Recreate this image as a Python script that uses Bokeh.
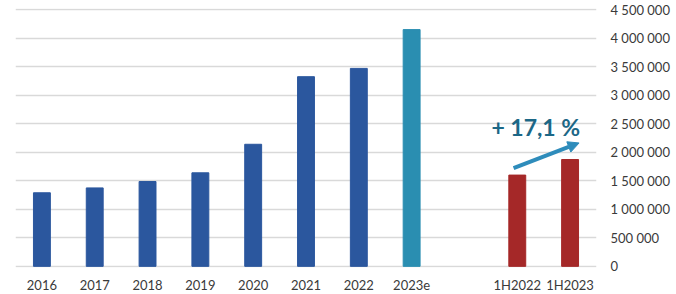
from bokeh.plotting import figure
from bokeh.models import Range1d, FixedTicker, Arrow, NormalHead, Label, CustomJSTickFormatter
from bokeh.embed import file_html
from bokeh.resources import INLINE

categories = ["2016", "2017", "2018", "2019", "2020", "2021", "2022", "2023e", "", "1H2022", "1H2023"]
values = [1290000, 1375000, 1487000, 1640000, 2140000, 3325000, 3470000, 4150000, None, 1600000, 1873000]
colors = ["#2B579E"] * 7 + ["#2A8EB1", None, "#A52828", "#A52828"]
y_ticks = [0, 500000, 1000000, 1500000, 2000000, 2500000, 3000000, 3500000, 4000000, 4500000]
growth_label = "+ 17,1 %"

xs = [i for i, v in enumerate(values) if v is not None]
tops = [v for v in values if v is not None]
cols = [c for c in colors if c is not None]

p = figure(width=676, height=294, frame_width=581, frame_height=259,
           output_backend="svg", toolbar_location=None,
           x_range=Range1d(-0.5, len(categories) - 0.5), y_range=Range1d(-20000, 4520000),
           y_axis_location="right")
p.min_border_left = 15
p.min_border_right = 80
p.min_border_top = 8
p.min_border_bottom = 27
p.outline_line_color = None
p.background_fill_color = "white"
p.border_fill_color = "white"

p.vbar(x=xs, top=tops, width=0.32, color=cols)

p.xgrid.grid_line_color = None
p.ygrid.grid_line_color = "#D9D9D9"
p.ygrid.grid_line_width = 1.5
p.ygrid.ticker = FixedTicker(ticks=y_ticks)

xa = p.xaxis[0]
xa.ticker = FixedTicker(ticks=list(range(len(categories))))
xa.major_label_overrides = {i: c for i, c in enumerate(categories)}
xa.axis_line_color = None
xa.major_tick_line_color = None
xa.minor_tick_line_color = None
xa.major_tick_out = 0
xa.major_tick_in = 0
xa.major_label_text_font = "Lato"
xa.major_label_text_font_size = "13px"
xa.major_label_text_color = "#3A3A3A"
xa.major_label_standoff = 9

ya = p.yaxis[0]
ya.ticker = FixedTicker(ticks=y_ticks)
ya.formatter = CustomJSTickFormatter(code="return tick.toString().replace(/\\B(?=(\\d{3})+(?!\\d))/g, ' ');")
ya.axis_line_color = None
ya.major_tick_line_color = None
ya.minor_tick_line_color = None
ya.major_tick_out = 0
ya.major_tick_in = 0
ya.major_label_text_font = "Lato"
ya.major_label_text_font_size = "13px"
ya.major_label_text_color = "#3A3A3A"
ya.major_label_standoff = 14

# growth arrow between half-year bars
p.add_layout(Arrow(end=NormalHead(size=11, fill_color="#2E8CBB", line_color="#2E8CBB"),
                   x_start=8.93, y_start=values[9] + 120000,
                   x_end=10.17, y_end=values[10] + 290000,
                   line_color="#2E8CBB", line_width=4))
p.add_layout(Label(x=9.35, y=2200000, text=growth_label, text_align="center",
                   text_font="Lato", text_font_style="bold", text_font_size="23px",
                   text_color="#1C6786"))

open("out.html", "w").write(file_html(p, INLINE))
